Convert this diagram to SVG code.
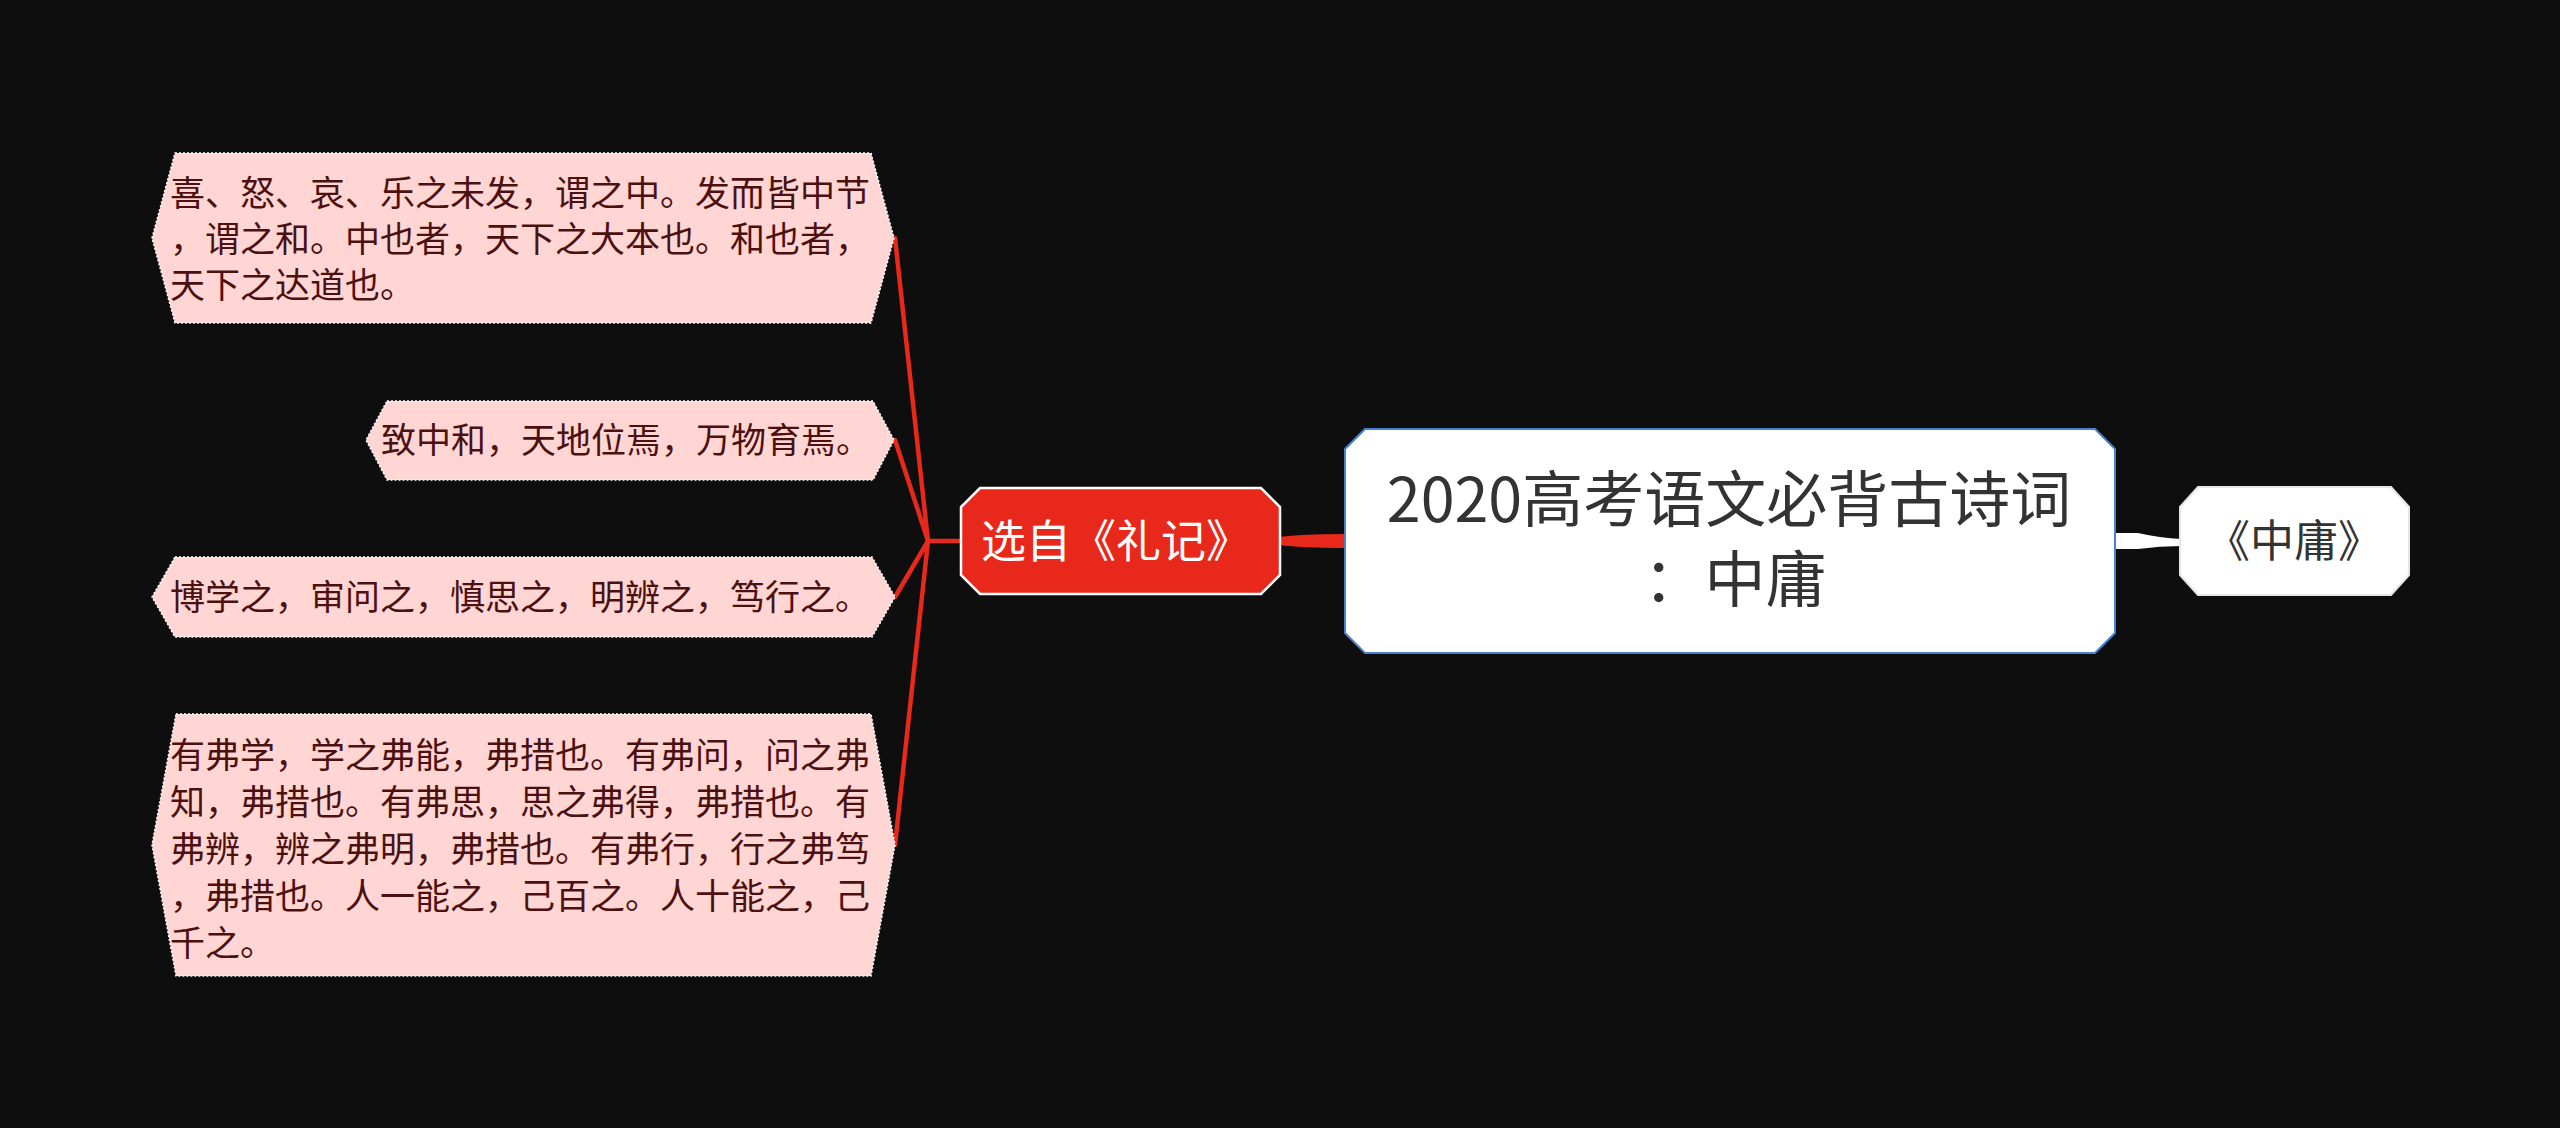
<svg xmlns="http://www.w3.org/2000/svg" width="2560" height="1128" viewBox="0 0 2560 1128">
<style>
text{font-family:"Noto Sans CJK SC","Noto Sans",sans-serif}
.leaf{fill:#ffd6d3;stroke:#ffffff;stroke-width:1.5;stroke-dasharray:2 2}
.lt{font-size:35px;fill:#4c1010}
.link{stroke:#e8281b;stroke-width:4.5;fill:none;stroke-linecap:round}
</style>
<rect x="0" y="0" width="2560" height="1128" fill="#0e0e0e"/>
<g id="connectors">
<path class="link" d="M961,541 L928,541 M928,541 L895,238 M928,541 L895,440 M928,541 L895,597 M928,541 L895,845"/>
<path d="M1280,537 Q1300,534 1346,534 L1346,548 Q1300,548 1280,545 Z" fill="#e8281b"/>
<path d="M2114,533 L2138,533 Q2160,538 2181,539 L2181,546 Q2160,546 2138,549 L2114,549 Z" fill="#ffffff"/>
</g>
<g id="main">
<path d="M1365,429 L2095,429 L2115,449 L2115,633 L2095,653 L1365,653 L1345,633 L1345,449 Z" fill="#ffffff" stroke="#4a80d0" stroke-width="2"/>
<text font-size="61" fill="#333333" text-anchor="middle"><tspan x="1729" y="522">2020高考语文必背古诗词</tspan><tspan x="1735" y="602">：中庸</tspan></text>
</g>
<g id="right">
<path d="M2198,487 L2391,487 L2409,507 L2409,575 L2391,595 L2198,595 L2180,575 L2180,507 Z" fill="#ffffff" stroke="#e6e6e6" stroke-width="2"/>
<text x="2294" y="557" font-size="44" fill="#333333" text-anchor="middle">《中庸》</text>
</g>
<g id="liji">
<path d="M980,488 L1261,488 L1280,507 L1280,575 L1261,594 L980,594 L961,575 L961,507 Z" fill="#e8281b" stroke="#ffffff" stroke-width="2.5"/>
<text x="981" y="558" font-size="45" fill="#ffffff">选自《礼记》</text>
</g>
<g id="leaf1">
<path class="leaf" d="M175,153 L871,153 L894,238 L871,323 L175,323 L152,238 Z"/>
<text class="lt"><tspan x="170" y="206">喜、怒、哀、乐之未发，谓之中。发而皆中节</tspan><tspan x="170" y="252">，谓之和。中也者，天下之大本也。和也者，</tspan><tspan x="170" y="298">天下之达道也。</tspan></text>
</g>
<g id="leaf2">
<path class="leaf" d="M387,401 L873,401 L894,440 L873,480 L387,480 L366,440 Z"/>
<text class="lt" x="381" y="453">致中和，天地位焉，万物育焉。</text>
</g>
<g id="leaf3">
<path class="leaf" d="M175,557 L872,557 L895,597 L872,637 L175,637 L152,597 Z"/>
<text class="lt" x="170" y="610">博学之，审问之，慎思之，明辨之，笃行之。</text>
</g>
<g id="leaf4">
<path class="leaf" d="M176,714 L871,714 L895,845 L871,976 L176,976 L152,845 Z"/>
<text class="lt"><tspan x="170" y="768">有弗学，学之弗能，弗措也。有弗问，问之弗</tspan><tspan x="170" y="815">知，弗措也。有弗思，思之弗得，弗措也。有</tspan><tspan x="170" y="862">弗辨，辨之弗明，弗措也。有弗行，行之弗笃</tspan><tspan x="170" y="909">，弗措也。人一能之，己百之。人十能之，己</tspan><tspan x="170" y="956">千之。</tspan></text>
</g>
</svg>
